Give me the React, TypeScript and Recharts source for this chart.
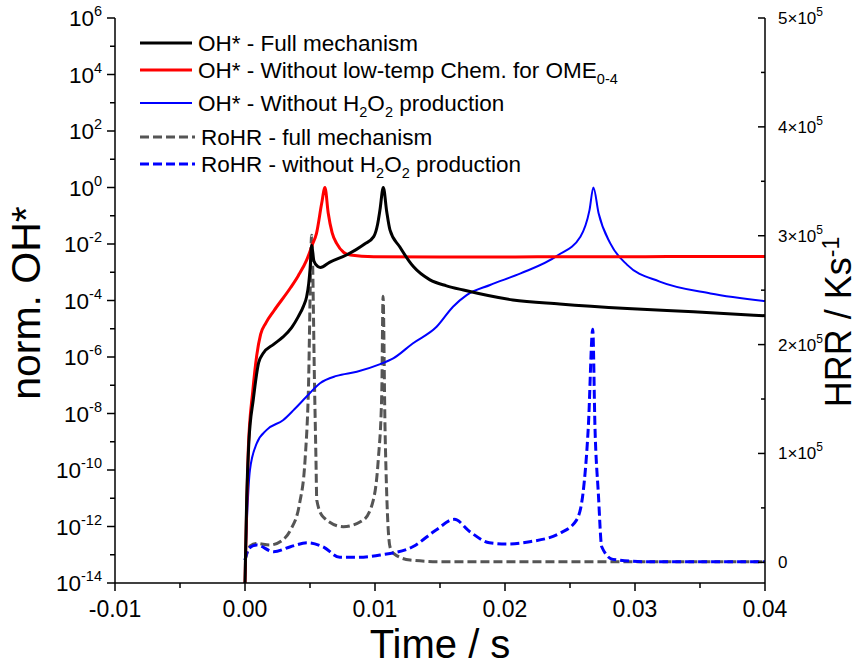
import React from 'react';
import { LineChart, Line, XAxis, YAxis, Legend } from 'recharts';

const FONT = '"Liberation Sans", Arial, Helvetica, sans-serif';

// OH* (normalised) - full mechanism, values stored as log10
const ohFullTime = [0, 0.00013, 0.0003, 0.00064, 0.00105, 0.0014, 0.0022, 0.00295, 0.0036, 0.0041, 0.0045, 0.00474, 0.0049, 0.005, 0.00513, 0.0053, 0.0056, 0.0058, 0.0065, 0.0078, 0.0092, 0.0099, 0.0102, 0.01038, 0.01064, 0.0109, 0.01115, 0.0119, 0.01295, 0.01423, 0.0155, 0.0168, 0.0206, 0.0242, 0.0294, 0.0345, 0.04];
const ohFullExp = [-14, -11, -9, -7.5, -6.2, -5.87, -5.55, -5.28, -4.95, -4.57, -4.2, -3.87, -3.4, -2.92, -2.04, -2.6, -2.8, -2.83, -2.65, -2.39, -2.0, -1.74, -1.3, -0.8, 0, -0.85, -1.5, -2.1, -2.8, -3.27, -3.48, -3.63, -3.98, -4.12, -4.28, -4.4, -4.54];

// OH* - without low-temp chemistry for OME0-4
const ohNoLtTime = [0, 0.00012, 0.00025, 0.0006, 0.0009, 0.0012, 0.0016, 0.0022, 0.0035, 0.0041, 0.00474, 0.0052, 0.0055, 0.0059, 0.00615, 0.0064, 0.0067, 0.00705, 0.0076, 0.0081, 0.0099, 0.015, 0.02, 0.025, 0.03, 0.035, 0.04];
const ohNoLtExp = [-14, -11.5, -9.3, -7.2, -5.95, -5.2, -4.8, -4.38, -3.55, -3.12, -2.57, -2.0, -1.62, -0.56, 0, -0.9, -1.6, -1.98, -2.3, -2.39, -2.45, -2.46, -2.46, -2.45, -2.45, -2.44, -2.44];

// OH* - without H2O2 production
const ohNoH2O2Time = [0, 0.00005, 0.00013, 0.00038, 0.0009, 0.00167, 0.00295, 0.0038, 0.00474, 0.00577, 0.00705, 0.0086, 0.0104, 0.0114, 0.0129, 0.01474, 0.016, 0.01705, 0.01885, 0.0212, 0.024, 0.0258, 0.0265, 0.0268, 0.0272, 0.0281, 0.0294, 0.0319, 0.0358, 0.04];
const ohNoH2O2Exp = [-14, -13, -12, -10, -9.06, -8.58, -8.23, -7.85, -7.4, -6.93, -6.67, -6.52, -6.25, -6.05, -5.52, -4.93, -4.22, -3.81, -3.45, -3.04, -2.42, -1.74, -0.8, 0, -0.91, -1.98, -2.74, -3.33, -3.75, -4.02];

// RoHR (K/s) - full mechanism
const hrrFullTime = [0, 0.0004, 0.0009, 0.0019, 0.0029, 0.0035, 0.0042, 0.00462, 0.00487, 0.00513, 0.00536, 0.00546, 0.00552, 0.006, 0.00756, 0.0091, 0.00987, 0.01025, 0.01052, 0.01062, 0.01077, 0.0109, 0.01115, 0.01141, 0.0127, 0.015, 0.02, 0.03, 0.04];
const hrrFull = [2000, 15000, 17400, 15900, 20500, 29700, 54200, 94000, 155000, 300500, 155000, 94000, 57200, 41900, 32700, 38800, 57200, 94000, 155000, 244500, 124500, 63400, 14300, 8300, 2100, 600, 500, 500, 500];

// RoHR (K/s) - without H2O2 production
const hrrNoH2O2Time = [0, 0.0003, 0.0009, 0.0022, 0.0035, 0.0048, 0.006, 0.0073, 0.0086, 0.0104, 0.0129, 0.0147, 0.0161, 0.0173, 0.0188, 0.0201, 0.0219, 0.0242, 0.0255, 0.026, 0.02641, 0.02675, 0.02692, 0.02718, 0.02744, 0.0283, 0.031, 0.035, 0.04];
const hrrNoH2O2 = [2000, 12900, 15900, 9700, 14300, 18000, 14300, 4600, 4600, 6700, 14300, 29700, 39500, 28100, 18000, 16800, 18900, 26600, 38800, 63400, 124500, 214000, 124500, 63400, 14300, 2700, 500, 500, 500];

const timeTicks = [-0.01, -0.005, 0, 0.005, 0.01, 0.015, 0.02, 0.025, 0.03, 0.035, 0.04];
const ohExponents = [-14, -13, -12, -11, -10, -9, -8, -7, -6, -5, -4, -3, -2, -1, 0, 1, 2, 3, 4, 5, 6];
const hrrTicks = [0, 50000, 100000, 150000, 200000, 250000, 300000, 350000, 400000, 450000, 500000];

const logSeries = (ts: number[], es: number[]) => ts.map((t, i) => ({ t, v: Math.pow(10, es[i]) }));
const linSeries = (ts: number[], vs: number[]) => ts.map((t, i) => ({ t, v: vs[i] }));

const ohFull = logSeries(ohFullTime, ohFullExp);
const ohNoLt = logSeries(ohNoLtTime, ohNoLtExp);
const ohNoH2O2 = logSeries(ohNoH2O2Time, ohNoH2O2Exp);
const rohrFull = linSeries(hrrFullTime, hrrFull);
const rohrNoH2O2 = linSeries(hrrNoH2O2Time, hrrNoH2O2);

const isMajorTime = (v: number) => Math.abs(Math.round(v * 100) - v * 100) < 1e-6;

const BottomTick = (props: any) => {
  const { x, y, payload } = props;
  const major = isMajorTime(payload.value);
  return (
    <g>
      <line x1={x} x2={x} y1={y} y2={y + (major ? 8 : 5)} stroke="#000" strokeWidth={1.5} />
      {major && (
        <text x={x} y={y + 34} textAnchor="middle" fontSize={23} fontFamily={FONT} fill="#000">
          {payload.value.toFixed(2)}
        </text>
      )}
    </g>
  );
};

const TopTick = (props: any) => {
  const { x, y } = props;
  return <line x1={x} x2={x} y1={y} y2={y + 5} stroke="#000" strokeWidth={1.5} />;
};

const LeftTick = (props: any) => {
  const { x, y, payload } = props;
  const e = Math.round(Math.log10(payload.value));
  const major = e % 2 === 0;
  return (
    <g>
      <line x1={x - (major ? 8 : 5)} x2={x} y1={y} y2={y} stroke="#000" strokeWidth={1.5} />
      {major && (
        <text x={x - 13} y={y + 8} textAnchor="end" fontSize={22.5} fontFamily={FONT} fill="#000">
          10
          <tspan dy={-10} fontSize={14.5}>
            {e}
          </tspan>
        </text>
      )}
    </g>
  );
};

const RightTick = (props: any) => {
  const { x, y, payload } = props;
  const v = payload.value;
  const major = v % 100000 === 0;
  return (
    <g>
      <line x1={x - (major ? 7 : 4)} x2={x} y1={y} y2={y} stroke="#000" strokeWidth={1.5} />
      {major && (
        <text x={x + 13} y={y + 6} fontSize={17} fontFamily={FONT} fill="#000">
          {v === 0 ? (
            '0'
          ) : (
            <>
              {v / 100000}×10
              <tspan dy={-8} fontSize={12}>
                5
              </tspan>
            </>
          )}
        </text>
      )}
    </g>
  );
};

const LeftTitle = () => (
  <text transform="translate(40,303) rotate(-90)" textAnchor="middle" fontSize={41} fontFamily={FONT} fill="#000">
    norm. OH*
  </text>
);

const BottomTitle = () => (
  <text x={440} y={658} textAnchor="middle" fontSize={40} fontFamily={FONT} fill="#000">
    Time / s
  </text>
);

const RightTitle = () => (
  <text transform="translate(851,322) rotate(-90)" textAnchor="middle" fontSize={36} fontFamily={FONT} fill="#000">
    HRR / Ks
    <tspan dy={-12} fontSize={23}>
      -1
    </tspan>
  </text>
);

const sub = (s: string) => (
  <tspan dy={6} fontSize={14.5}>
    {s}
  </tspan>
);

const LegendBox = () => {
  const rows = [
    { y: 43, color: '#000', w: 3, dash: undefined, text: <>OH* - Full mechanism</> },
    {
      y: 70,
      color: '#ff0000',
      w: 3,
      dash: undefined,
      text: <>OH* - Without low-temp Chem. for OME{sub('0-4')}</>,
    },
    {
      y: 103,
      color: '#0000ff',
      w: 2,
      dash: undefined,
      text: (
        <>
          OH* - Without H{sub('2')}
          <tspan dy={-6}>O</tspan>
          {sub('2')}
          <tspan dy={-6}> production</tspan>
        </>
      ),
    },
    { y: 137, color: '#555555', w: 3, dash: '9 4', text: <>RoHR - full mechanism</> },
    {
      y: 164,
      color: '#0000ff',
      w: 3,
      dash: '9 4',
      text: (
        <>
          RoHR - without H{sub('2')}
          <tspan dy={-6}>O</tspan>
          {sub('2')}
          <tspan dy={-6}> production</tspan>
        </>
      ),
    },
  ];
  return (
    <svg width={660} height={190} style={{ display: 'block' }}>
      {rows.map((r, i) => (
        <g key={i}>
          <line x1={140} x2={r.dash ? 195 : 192} y1={r.y} y2={r.y} stroke={r.color} strokeWidth={r.w} strokeDasharray={r.dash} />
          <text x={r.dash ? 201 : 198} y={r.y + 8} fontSize={22.5} fontFamily={FONT} fill="#000">
            {r.text}
          </text>
        </g>
      ))}
    </svg>
  );
};

export default function App() {
  return (
    <div style={{ position: 'absolute', left: 0, top: 0, width: 860, height: 668, background: '#fff' }}>
      <LineChart width={860} height={668} margin={{ top: 18, right: 0, bottom: 0, left: 0 }}>
        <XAxis
          xAxisId="top"
          orientation="top"
          type="number"
          dataKey="t"
          domain={[-0.01, 0.04]}
          ticks={timeTicks}
          height={0}
          tickSize={0}
          tickMargin={0}
          tickLine={false}
          tick={<TopTick />}
          axisLine={{ stroke: '#000', strokeWidth: 1.5 }}
          allowDataOverflow
        />
        <XAxis
          xAxisId="bottom"
          type="number"
          dataKey="t"
          domain={[-0.01, 0.04]}
          ticks={timeTicks}
          height={85}
          tickSize={0}
          tickMargin={0}
          tickLine={false}
          tick={<BottomTick />}
          axisLine={{ stroke: '#000', strokeWidth: 1.5 }}
          interval={0}
          allowDataOverflow
          label={<BottomTitle />}
        />
        <YAxis
          yAxisId="oh"
          scale="log"
          domain={[1e-14, 1e6]}
          ticks={ohExponents.map((e) => Math.pow(10, e))}
          width={115}
          tickSize={0}
          tickMargin={0}
          tickLine={false}
          tick={<LeftTick />}
          axisLine={{ stroke: '#000', strokeWidth: 1.5 }}
          interval={0}
          allowDataOverflow
          label={<LeftTitle />}
        />
        <YAxis
          yAxisId="hrr"
          orientation="right"
          domain={[-19000, 500000]}
          ticks={hrrTicks}
          width={95}
          tickSize={0}
          tickMargin={0}
          tickLine={false}
          tick={<RightTick />}
          axisLine={{ stroke: '#000', strokeWidth: 1.5 }}
          interval={0}
          allowDataOverflow
          label={<RightTitle />}
        />
        <Legend
          layout="vertical"
          align="center"
          verticalAlign="middle"
          wrapperStyle={{ position: 'absolute', left: 0, top: 0, width: 660, height: 190 }}
          content={() => <LegendBox />}
        />
        <Line xAxisId="bottom" yAxisId="hrr" data={rohrFull} dataKey="v" type="monotone" stroke="#555555" strokeWidth={3} strokeDasharray="9 4" dot={false} isAnimationActive={false} />
        <Line xAxisId="bottom" yAxisId="hrr" data={rohrNoH2O2} dataKey="v" type="monotone" stroke="#0000ff" strokeWidth={3} strokeDasharray="9 4" dot={false} isAnimationActive={false} />
        <Line xAxisId="bottom" yAxisId="oh" data={ohNoH2O2} dataKey="v" type="monotone" stroke="#0000ff" strokeWidth={2} dot={false} isAnimationActive={false} />
        <Line xAxisId="bottom" yAxisId="oh" data={ohNoLt} dataKey="v" type="monotone" stroke="#ff0000" strokeWidth={3} dot={false} isAnimationActive={false} />
        <Line xAxisId="bottom" yAxisId="oh" data={ohFull} dataKey="v" type="monotone" stroke="#000000" strokeWidth={3} dot={false} isAnimationActive={false} />
      </LineChart>
    </div>
  );
}
